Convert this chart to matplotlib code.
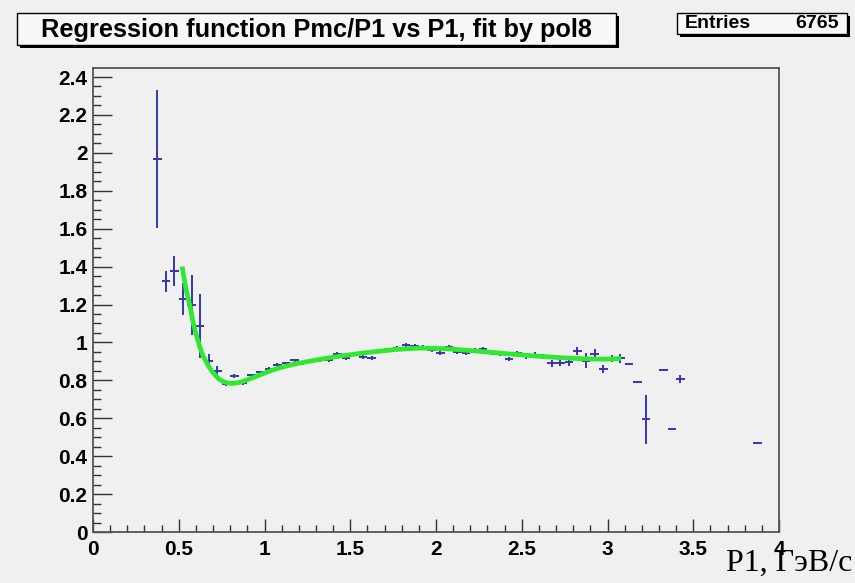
import matplotlib
matplotlib.use("Agg")
import matplotlib.pyplot as plt
from matplotlib.patches import Rectangle
from matplotlib.ticker import MultipleLocator, FuncFormatter

# profile histogram bins (centre, mean, error)
p1 = [0.375, 0.425, 0.475, 0.525, 0.575, 0.625, 0.675, 0.725, 0.775, 0.825,
      0.875, 0.925, 0.975, 1.025, 1.075, 1.125, 1.175, 1.225, 1.275, 1.325,
      1.375, 1.425, 1.475, 1.525, 1.575, 1.625, 1.675, 1.725, 1.775, 1.825,
      1.875, 1.925, 1.975, 2.025, 2.075, 2.125, 2.175, 2.225, 2.275, 2.325,
      2.375, 2.425, 2.475, 2.525, 2.575, 2.625, 2.675, 2.725, 2.775, 2.825,
      2.875, 2.925, 2.975, 3.025, 3.075, 3.125, 3.175, 3.225, 3.325, 3.375,
      3.425, 3.875]
ratio = [1.967, 1.322, 1.378, 1.229, 1.197, 1.087, 0.904, 0.849, 0.779, 0.823,
         0.785, 0.828, 0.842, 0.860, 0.881, 0.890, 0.907, 0.890, 0.904, 0.907,
         0.907, 0.939, 0.916, 0.939, 0.925, 0.916, 0.956, 0.963, 0.970, 0.986,
         0.981, 0.977, 0.960, 0.946, 0.974, 0.950, 0.946, 0.960, 0.963, 0.946,
         0.939, 0.912, 0.942, 0.928, 0.933, 0.925, 0.889, 0.893, 0.895, 0.956,
         0.904, 0.939, 0.860, 0.916, 0.916, 0.886, 0.793, 0.594, 0.854, 0.542,
         0.807, 0.471]
ratio_err = [0.365, 0.055, 0.078, 0.085, 0.160, 0.170, 0.035, 0.025, 0.010, 0.010,
             0.010, 0.008, 0.008, 0.008, 0.008, 0.008, 0.008, 0.010, 0.008, 0.008,
             0.008, 0.010, 0.010, 0.010, 0.010, 0.010, 0.010, 0.010, 0.010, 0.010,
             0.010, 0.010, 0.010, 0.012, 0.012, 0.012, 0.012, 0.012, 0.012, 0.012,
             0.012, 0.012, 0.012, 0.015, 0.015, 0.015, 0.018, 0.018, 0.018, 0.020,
             0.040, 0.025, 0.020, 0.020, 0.025, 0.0, 0.0, 0.130, 0.0, 0.0,
             0.020, 0.0]
half_bin = 0.025

# pol8 fit curve
fit_x = [0.52, 0.54, 0.566, 0.585, 0.605, 0.625, 0.644, 0.67, 0.70, 0.73,
         0.76, 0.79, 0.82, 0.86, 0.90, 0.95, 1.0, 1.05, 1.1, 1.17, 1.25,
         1.35, 1.44, 1.54, 1.64, 1.77, 1.9, 2.0, 2.1, 2.24, 2.38, 2.5,
         2.6, 2.72, 2.85, 2.95, 3.0, 3.05, 3.08]
fit_y = [1.40, 1.29, 1.19, 1.10, 1.03, 0.97, 0.925, 0.88, 0.84, 0.81,
         0.793, 0.785, 0.784, 0.79, 0.803, 0.82, 0.838, 0.855, 0.869, 0.885, 0.899,
         0.915, 0.928, 0.94, 0.951, 0.963, 0.97, 0.969, 0.964, 0.954, 0.943, 0.934,
         0.927, 0.92, 0.914, 0.912, 0.912, 0.914, 0.916]

W, H = 855, 583
BG = "#f0f0f0"


def fx(px):
    return px / W


def fy(py):
    return 1 - py / H


def root_box(fig, x0, y0, x1, y1, shadow=3):
    # box with a black drop shadow, the way ROOT draws its panes
    fig.add_artist(Rectangle((fx(x0 + shadow), fy(y1 + shadow)), fx(x1 - x0), (y1 - y0) / H,
                             transform=fig.transFigure, facecolor="black", edgecolor="none"))
    fig.add_artist(Rectangle((fx(x0), fy(y1)), fx(x1 - x0), (y1 - y0) / H,
                             transform=fig.transFigure, facecolor="#f8f8f8",
                             edgecolor="black", linewidth=1.0))


fig = plt.figure(figsize=(W / 100, H / 100), dpi=100, facecolor=BG)
ax = fig.add_axes([fx(93), fy(532), fx(779 - 93), (532 - 68) / H], facecolor=BG)

ax.errorbar(p1, ratio, xerr=half_bin, yerr=ratio_err, fmt="none",
            ecolor="#3535b5", elinewidth=1.4, capsize=0, zorder=2)
ax.plot(fit_x, fit_y, color="#30e830", linewidth=3.4, solid_capstyle="butt",
        solid_joinstyle="round", zorder=3)

ax.set_xlim(0, 4)
ax.set_ylim(0, 2.4475)
ax.xaxis.set_major_locator(MultipleLocator(0.5))
ax.xaxis.set_minor_locator(MultipleLocator(0.1))
ax.yaxis.set_major_locator(MultipleLocator(0.2))
ax.yaxis.set_minor_locator(MultipleLocator(0.05))
fmt = FuncFormatter(lambda v, pos: "%g" % round(v, 3))
ax.xaxis.set_major_formatter(fmt)
ax.yaxis.set_major_formatter(fmt)

ax.tick_params(which="both", direction="in", top=False, right=False, color="#333333", width=1.0)
ax.xaxis.set_tick_params(which="major", length=9.5, pad=6)
ax.xaxis.set_tick_params(which="minor", length=5)
ax.yaxis.set_tick_params(which="major", length=13.5, pad=4)
ax.yaxis.set_tick_params(which="minor", length=6)
for lab in ax.get_xticklabels() + ax.get_yticklabels():
    lab.set_fontfamily("Liberation Sans")
    lab.set_fontweight("bold")
    lab.set_fontsize(15)
for sp in ax.spines.values():
    sp.set_color("#555555")
    sp.set_linewidth(1.3)

# title pane
root_box(fig, 17, 13, 616, 45)
fig.text(fx(316), fy(30), "Regression function Pmc/P1 vs P1, fit by pol8",
         ha="center", va="center", fontsize=18.3, fontweight="bold", family="Liberation Sans")

# stats pane
root_box(fig, 677, 13, 847, 34)
fig.text(fx(685), fy(24), "Entries", ha="left", va="center", fontsize=14,
         fontweight="bold", family="Liberation Sans")
fig.text(fx(839), fy(24), "6765", ha="right", va="center", fontsize=14,
         fontweight="bold", family="Liberation Sans")

# axis title
fig.text(fx(852), fy(571), "Р1, ГэВ/c", ha="right", va="baseline", fontsize=23,
         family="Liberation Serif")

fig.savefig("out.png", dpi=100, facecolor=BG)
